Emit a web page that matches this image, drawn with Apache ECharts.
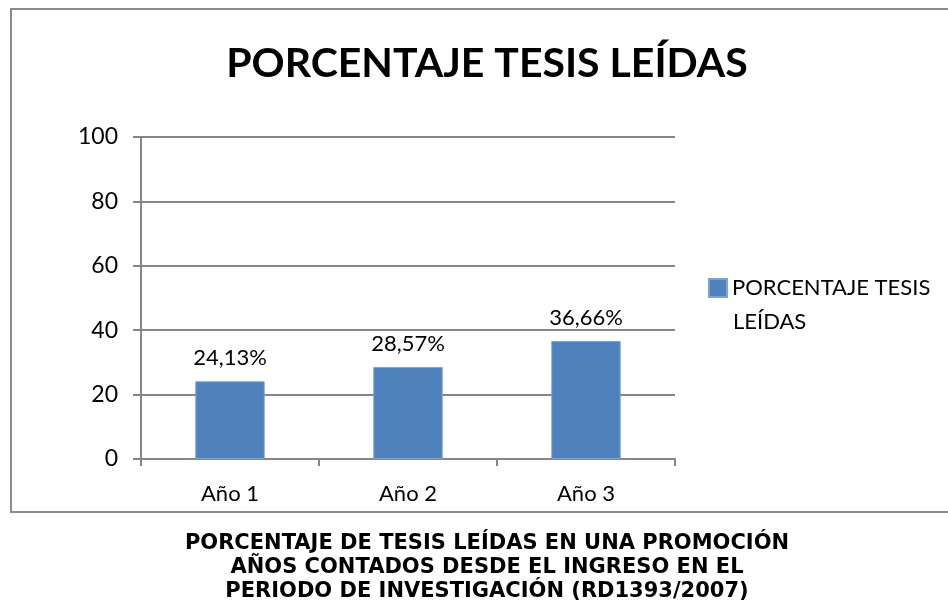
<!DOCTYPE html>
<html>
<head>
<meta charset="utf-8">
<script src="https://cdn.jsdelivr.net/npm/echarts@6/dist/echarts.min.js"></script>
<style>
    html, body { margin: 0; padding: 0; background: #fff; }
</style>
</head>
<body>
<div id="main" style="width: 948px;height:605px;"></div>
<script>
    var categories = ['Año 1', 'Año 2', 'Año 3'];
    var values = [24.13, 28.57, 36.66];
    var valueLabels = ['24,13%', '28,57%', '36,66%'];
    var yTicks = [0, 20, 40, 60, 80, 100];
    var seriesName = 'PORCENTAJE TESIS LEÍDAS';

    var myChart = echarts.init(document.getElementById('main'));

    var option = {
        backgroundColor: '#fff',
        animation: false,
        title: [{
            text: 'PORCENTAJE TESIS LEÍDAS',
            left: 482,
            top: 38,
            textAlign: 'center',
            textStyle: {
                fontFamily: 'Lato',
                fontWeight: 'bold',
                fontSize: 41,
                color: '#000'
            }
        }, {
            text: 'PORCENTAJE DE TESIS LEÍDAS EN UNA PROMOCIÓN\nAÑOS CONTADOS DESDE EL INGRESO EN EL\nPERIODO DE INVESTIGACIÓN (RD1393/2007)',
            left: 482,
            top: 527,
            textAlign: 'center',
            textStyle: {
                fontFamily: 'DejaVu Sans',
                fontWeight: 'bold',
                fontSize: 21,
                lineHeight: 24,
                color: '#000'
            }
        }],
        graphic: [{
            type: 'rect',
            shape: { x: 11, y: 9, width: 960, height: 503 },
            style: { fill: 'none', stroke: '#8c8c8c', lineWidth: 2 },
            z: -1
        }, {
            // segunda línea de la leyenda
            type: 'text',
            left: 733,
            top: 311,
            style: {
                text: 'LEÍDAS',
                fontFamily: 'Lato',
                fontSize: 22,
                fill: '#000'
            }
        }],
        legend: {
            orient: 'vertical',
            left: 703,
            top: 272,
            itemWidth: 18,
            itemHeight: 18,
            itemGap: 7,
            formatter: function () {
                return 'PORCENTAJE TESIS';
            },
            textStyle: {
                fontFamily: 'Lato',
                fontSize: 22,
                color: '#000'
            },
            icon: 'rect',
            data: [seriesName]
        },
        grid: {
            left: 141,
            top: 137,
            width: 534,
            height: 322
        },
        xAxis: {
            type: 'category',
            data: categories,
            axisLine: { lineStyle: { color: '#868686', width: 2 } },
            axisTick: { show: true, length: 7, lineStyle: { color: '#868686', width: 2 } },
            axisLabel: {
                margin: 24,
                fontFamily: 'Lato',
                fontSize: 22,
                color: '#000'
            }
        },
        yAxis: {
            type: 'value',
            min: 0,
            max: 100,
            interval: 20,
            axisLine: { show: true, lineStyle: { color: '#868686', width: 2 } },
            axisTick: { show: true, length: 8, lineStyle: { color: '#868686', width: 2 } },
            splitLine: { lineStyle: { color: '#868686', width: 2 } },
            axisLabel: {
                margin: 23,
                fontFamily: 'Lato',
                fontSize: 23,
                color: '#000',
                formatter: function (v) {
                    return yTicks.indexOf(v) >= 0 ? String(v) : '';
                }
            }
        },
        series: [{
            name: seriesName,
            type: 'bar',
            data: values,
            barWidth: '39%',
            itemStyle: {
                color: '#4f81bd',
                borderColor: '#7ea4d4',
                borderWidth: 1
            },
            label: {
                show: true,
                position: 'top',
                distance: 12,
                fontFamily: 'Lato',
                fontSize: 22,
                color: '#000',
                formatter: function (p) {
                    return valueLabels[p.dataIndex];
                }
            }
        }]
    };

    myChart.setOption(option);
</script>
</body>
</html>
